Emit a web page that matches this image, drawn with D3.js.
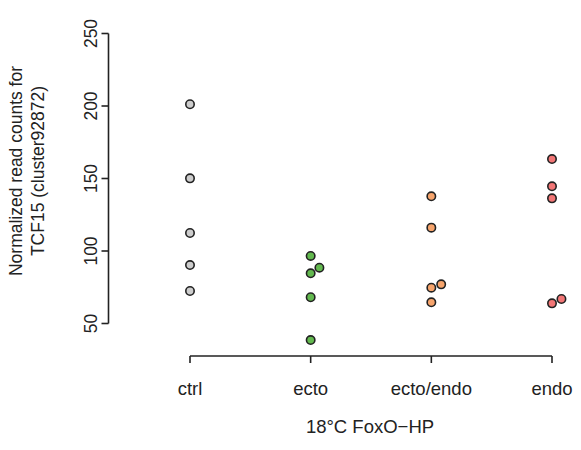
<!DOCTYPE html>
<html>
<head>
<meta charset="utf-8">
<script src="https://cdn.jsdelivr.net/npm/d3@7"></script>
<style>
  html, body { margin: 0; padding: 0; background: #fff; }
  text { font-family: "Liberation Sans", Arial, Helvetica, sans-serif; fill: #222; }
</style>
</head>
<body>
<svg id="chart" width="581" height="450"></svg>
<script>
const categories = ["ctrl", "ecto", "ecto/endo", "endo"];
const ctrlValues = [201.2, 150.1, 112.4, 90.3, 72.4];
const ectoValues = [96.6, 88.5, 84.6, 68.1, 38.6];
const ectoEndoValues = [137.7, 116.1, 77.0, 74.7, 64.6];
const endoValues = [163.4, 144.6, 136.3, 66.9, 63.9];
const seriesValues = [ctrlValues, ectoValues, ectoEndoValues, endoValues];
const fillColors = ["#cdcdcd", "#63b94f", "#f6a46c", "#f27676"];
const yTicks = [50, 100, 150, 200, 250];
const yTitleLines = ["Normalized read counts for", "TCF15 (cluster92872)"];
const xTitle = "18\u00B0C FoxO\u2212HP";

const svg = d3.select("#chart");
const x = d3.scalePoint().domain(categories).range([190, 552]);
const y = d3.scaleLinear().domain([50, 250]).range([323.5, 33.5]);

const fontSize = 17.5;
const xFontSize = 18.5;

// y axis
const yAxis = svg.append("g").attr("transform", "translate(108.5,0)");
yAxis.append("line").attr("x1", 0).attr("x2", 0).attr("y1", y(250)).attr("y2", y(50))
  .attr("stroke", "#222").attr("stroke-width", 1.6);
yTicks.forEach(t => {
  yAxis.append("line").attr("x1", -7).attr("x2", 0).attr("y1", y(t)).attr("y2", y(t))
    .attr("stroke", "#222").attr("stroke-width", 1.6);
  yAxis.append("text").attr("transform", `translate(-12,${y(t)}) rotate(-90)`)
    .attr("text-anchor", "middle").attr("font-size", fontSize).text(t);
});

// x axis
const xAxisY = 356;
const xAxis = svg.append("g");
xAxis.append("line").attr("x1", x(categories[0])).attr("x2", x(categories[categories.length - 1]))
  .attr("y1", xAxisY).attr("y2", xAxisY).attr("stroke", "#222").attr("stroke-width", 1.6);
categories.forEach(c => {
  xAxis.append("line").attr("x1", x(c)).attr("x2", x(c)).attr("y1", xAxisY).attr("y2", xAxisY + 7)
    .attr("stroke", "#222").attr("stroke-width", 1.6);
  xAxis.append("text").attr("x", x(c)).attr("y", 395).attr("text-anchor", "middle")
    .attr("font-size", xFontSize).text(c);
});

// titles
svg.append("text").attr("x", 370).attr("y", 433).attr("text-anchor", "middle")
  .attr("font-size", xFontSize).text(xTitle);
yTitleLines.forEach((line, i) => {
  svg.append("text").attr("transform", `translate(${22 + i * 22},171) rotate(-90)`)
    .attr("text-anchor", "middle").attr("font-size", fontSize).text(line);
});

// beeswarm (shift to the right only)
const d = 10.4, r = 4.2;
seriesValues.forEach((vals, gi) => {
  const cx0 = x(categories[gi]);
  const pts = vals.map(v => ({ v, py: y(v) })).sort((a, b) => a.v - b.v);
  const placed = [];
  pts.forEach(p => {
    const cands = [0];
    placed.forEach(q => {
      const dy = Math.abs(q.py - p.py);
      if (dy < d) cands.push(q.dx + Math.sqrt(d * d - dy * dy));
    });
    cands.sort((a, b) => a - b);
    let chosen = 0;
    for (const c of cands) {
      const ok = placed.every(q => {
        const dx = q.dx - c, dy = q.py - p.py;
        return dx * dx + dy * dy >= d * d - 0.01;
      });
      if (ok) { chosen = c; break; }
    }
    p.dx = chosen;
    placed.push(p);
  });
  svg.append("g").selectAll("circle").data(placed).join("circle")
    .attr("cx", p => cx0 + p.dx).attr("cy", p => p.py).attr("r", r)
    .attr("fill", fillColors[gi]).attr("stroke", "#222").attr("stroke-width", 1.6);
});
</script>
</body>
</html>
